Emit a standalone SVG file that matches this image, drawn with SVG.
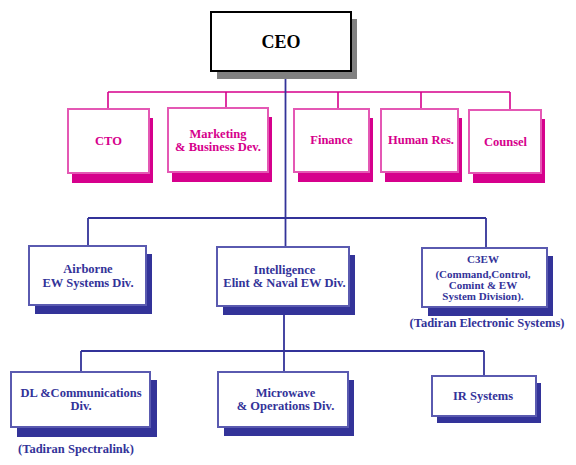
<svg xmlns="http://www.w3.org/2000/svg" width="576" height="465" viewBox="0 0 576 465">
<style>
  text { font-family: "Liberation Serif", "DejaVu Serif", serif; font-weight: 700; text-anchor: middle; }
  .ceo-sh { fill: #808080; }
  .ceo-box { fill: #ffffff; stroke: #000000; stroke-width: 2; }
  .ceo-t { fill: #000000; font-size: 18px; }
  .p-sh { fill: #d6008c; }
  .p-box { fill: #ffffff; stroke: #e458b4; stroke-width: 2; }
  .p-t { fill: #d6008c; font-size: 12.5px; }
  .b-sh { fill: #333399; }
  .b-box { fill: #ffffff; stroke: #5a5ab0; stroke-width: 2; }
  .b-t { fill: #333399; font-size: 12.5px; }
  .b-s { fill: #333399; font-size: 11px; }
  .pl { stroke: #d6008c; stroke-width: 1.6; fill: none; }
  .bl { stroke: #333399; stroke-width: 1.8; fill: none; }
</style>
<rect width="576" height="465" fill="#ffffff"/>
<g id="connectors">
  <path class="pl" d="M108 92 H510 M108 92 V109 M226 92 V108 M338 92 V109 M421 92 V109 M510 92 V110"/>
  <path class="bl" d="M285.5 71 V247"/>
  <path class="bl" d="M88 218 H486 M88 218 V246 M486 218 V248"/>
  <path class="bl" d="M284 306 V372 M81 351 H484 M81 351 V372 M484 351 V376"/>
</g>
<g id="ceo">
  <rect class="ceo-sh" x="217" y="19" width="140" height="60"/>
  <rect class="ceo-box" x="211" y="12" width="140" height="59"/>
  <text class="ceo-t" x="281" y="48">CEO</text>
</g>
<g id="cto">
  <rect class="p-sh" x="72" y="118" width="81" height="65"/>
  <rect class="p-box" x="68" y="109" width="81" height="64"/>
  <text class="p-t" x="108.5" y="145">CTO</text>
</g>
<g id="marketing">
  <rect class="p-sh" x="172" y="117" width="100" height="65"/>
  <rect class="p-box" x="168" y="108" width="100" height="64"/>
  <text class="p-t" x="218" y="138">Marketing</text>
  <text class="p-t" x="218" y="151">&amp; Business Dev.</text>
</g>
<g id="finance">
  <rect class="p-sh" x="298" y="118" width="75" height="64"/>
  <rect class="p-box" x="294" y="109" width="75" height="63"/>
  <text class="p-t" x="331.5" y="144">Finance</text>
</g>
<g id="human-res">
  <rect class="p-sh" x="385" y="118" width="77" height="64"/>
  <rect class="p-box" x="381" y="109" width="77" height="63"/>
  <text class="p-t" x="421" y="144">Human Res.</text>
</g>
<g id="counsel">
  <rect class="p-sh" x="473" y="119" width="72" height="64"/>
  <rect class="p-box" x="469" y="110" width="72" height="63"/>
  <text class="p-t" x="505.5" y="146">Counsel</text>
</g>
<g id="airborne">
  <rect class="b-sh" x="35" y="254" width="117" height="60"/>
  <rect class="b-box" x="29" y="246" width="117" height="59"/>
  <text class="b-t" x="88" y="273">Airborne</text>
  <text class="b-t" x="88" y="287">EW Systems Div.</text>
</g>
<g id="intelligence">
  <rect class="b-sh" x="223" y="255" width="132" height="60"/>
  <rect class="b-box" x="217" y="247" width="132" height="59"/>
  <text class="b-t" x="284.5" y="274">Intelligence</text>
  <text class="b-t" x="284.5" y="287">Elint &amp; Naval EW Div.</text>
</g>
<g id="c3ew">
  <rect class="b-sh" x="428" y="256" width="125" height="60"/>
  <rect class="b-box" x="422" y="248" width="125" height="59"/>
  <text class="b-s" x="483" y="263">C3EW</text>
  <text class="b-s" x="483" y="278">(Command,Control,</text>
  <text class="b-s" x="483" y="289">Comint &amp; EW</text>
  <text class="b-s" x="483" y="300">System Division).</text>
  <text class="b-t" x="487" y="327">(Tadiran Electronic Systems)</text>
</g>
<g id="dl-comm">
  <rect class="b-sh" x="17" y="380" width="140" height="57"/>
  <rect class="b-box" x="11" y="372" width="139" height="55"/>
  <text class="b-t" x="81" y="397">DL &amp;Communications</text>
  <text class="b-t" x="81" y="410">Div.</text>
  <text class="b-t" x="76" y="453">(Tadiran Spectralink)</text>
</g>
<g id="microwave">
  <rect class="b-sh" x="224" y="380" width="130" height="56"/>
  <rect class="b-box" x="218" y="372" width="130" height="55"/>
  <text class="b-t" x="285.5" y="397">Microwave</text>
  <text class="b-t" x="285.5" y="410">&amp; Operations Div.</text>
</g>
<g id="ir-systems">
  <rect class="b-sh" x="437" y="383" width="104" height="40"/>
  <rect class="b-box" x="432" y="376" width="104" height="40"/>
  <text class="b-t" x="483" y="400">IR Systems</text>
</g>
</svg>
